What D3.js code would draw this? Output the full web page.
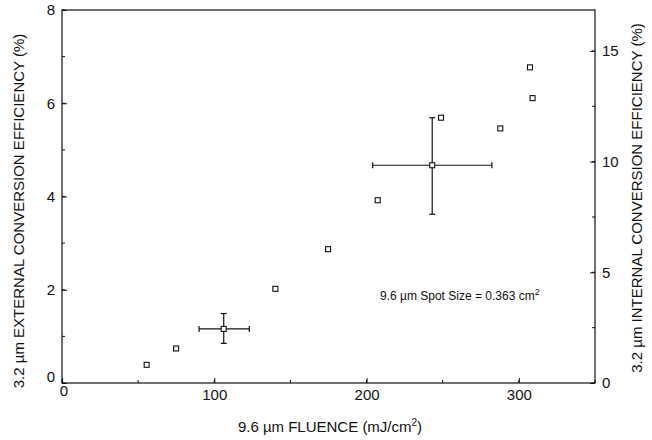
<!DOCTYPE html>
<meta charset="utf-8">
<style>
  body { margin: 0; background: #fff; }
  text { font-family: "Liberation Sans", Arial, sans-serif; fill: #111; }
  .axis path, .axis line { stroke: #111; }
</style>
<body>
<svg id="chart" width="652" height="440"></svg>
</body>
<script src="https://cdn.jsdelivr.net/npm/d3@7"></script>
<script>

  // fluence (mJ/cm2) and external efficiency (%)
  var fluence = [55.6, 74.9, 106.2, 140.1, 174.7, 207.3, 243.1, 248.9, 287.8, 307.3, 309];
  var efficiency = [0.39, 0.74, 1.16, 2.02, 2.87, 3.92, 4.67, 5.69, 5.46, 6.77, 6.11];

  // error bars: [x, y, xLo, xHi, yLo, yHi]
  var errorBars = [
    [106.2, 1.16, 90, 123, 0.85, 1.49],
    [243.1, 4.67, 204, 282.3, 3.62, 5.69]
  ];

  var xTicks = [0, 100, 200, 300];
  var yTicks = [0, 2, 4, 6, 8];
  var y2Ticks = [0, 5, 10, 15];

  var svg = d3.select("#chart");
  var plotLeft = 62, plotRight = 595, plotTop = 10, plotBottom = 383;

  var x = d3.scaleLinear().domain([0, 350]).range([plotLeft, plotRight]);
  var y = d3.scaleLinear().domain([0, 8]).range([plotBottom, plotTop]);
  var y2 = d3.scaleLinear().domain([0, 16.85]).range([plotBottom, plotTop]);

  // frame
  svg.append("rect")
      .attr("x", plotLeft).attr("y", plotTop)
      .attr("width", plotRight - plotLeft).attr("height", plotBottom - plotTop)
      .attr("fill", "none").attr("stroke", "#111").attr("stroke-width", 1.2);

  // minor ticks
  var minor = svg.append("g").attr("stroke", "#111");
  d3.range(0, 351, 50).forEach(function (v) {
    minor.append("line").attr("x1", x(v)).attr("x2", x(v)).attr("y1", plotBottom).attr("y2", plotBottom - 3);
  });
  d3.range(0, 8.01, 1).forEach(function (v) {
    minor.append("line").attr("x1", plotLeft).attr("x2", plotLeft + 3).attr("y1", y(v)).attr("y2", y(v));
  });
  d3.range(0, 16.5, 2.5).forEach(function (v) {
    minor.append("line").attr("x1", plotRight).attr("x2", plotRight - 3).attr("y1", y2(v)).attr("y2", y2(v));
  });

  // axes
  var xAxis = svg.append("g").attr("class", "axis")
      .attr("transform", "translate(0," + plotBottom + ")")
      .call(d3.axisBottom(x).tickValues(xTicks).tickSize(-5).tickPadding(6).tickSizeOuter(0));
  var yAxis = svg.append("g").attr("class", "axis")
      .attr("transform", "translate(" + plotLeft + ",0)")
      .call(d3.axisLeft(y).tickValues(yTicks).tickSize(-5).tickPadding(7).tickSizeOuter(0));
  var y2Axis = svg.append("g").attr("class", "axis")
      .attr("transform", "translate(" + plotRight + ",0)")
      .call(d3.axisRight(y2).tickValues(y2Ticks).tickSize(-5).tickPadding(7).tickSizeOuter(0));

  svg.selectAll(".axis text").style("font-size", "15px");
  svg.selectAll(".axis .domain").remove();
  // the two zeros in the corner sit a bit off the axis
  yAxis.selectAll(".tick text").filter(function (d) { return d === 0; }).attr("dy", "-0.1em");
  xAxis.selectAll(".tick text").filter(function (d) { return d === 0; }).attr("dx", "0.1em").attr("dy", "0.45em");

  // error bars
  var eb = svg.append("g").attr("stroke", "#111").attr("stroke-width", 1.2);
  errorBars.forEach(function (d) {
    eb.append("line").attr("x1", x(d[2])).attr("x2", x(d[3])).attr("y1", y(d[1])).attr("y2", y(d[1]));
    eb.append("line").attr("x1", x(d[0])).attr("x2", x(d[0])).attr("y1", y(d[4])).attr("y2", y(d[5]));
    [d[2], d[3]].forEach(function (v) {
      eb.append("line").attr("x1", x(v)).attr("x2", x(v)).attr("y1", y(d[1]) - 3).attr("y2", y(d[1]) + 3);
    });
    [d[4], d[5]].forEach(function (v) {
      eb.append("line").attr("x1", x(d[0]) - 3).attr("x2", x(d[0]) + 3).attr("y1", y(v)).attr("y2", y(v));
    });
  });

  // markers
  svg.append("g").selectAll("rect")
      .data(fluence)
      .enter().append("rect")
      .attr("x", function (d) { return x(d) - 2.5; })
      .attr("y", function (d, i) { return y(efficiency[i]) - 2.5; })
      .attr("width", 5).attr("height", 5)
      .attr("fill", "#fff").attr("stroke", "#111").attr("stroke-width", 1.1);

  // titles
  var xt = svg.append("text")
      .attr("x", 330).attr("y", 432)
      .attr("text-anchor", "middle").style("font-size", "15px");
  xt.append("tspan").text("9.6 \u00b5m FLUENCE (mJ/cm");
  xt.append("tspan").attr("dy", -6).style("font-size", "10px").text("2");
  xt.append("tspan").attr("dy", 6).text(")");

  svg.append("text")
      .attr("transform", "translate(24,211) rotate(-90)")
      .attr("text-anchor", "middle").style("font-size", "15px")
      .text("3.2 \u00b5m EXTERNAL CONVERSION EFFICIENCY (%)");

  svg.append("text")
      .attr("transform", "translate(642,198) rotate(-90)")
      .attr("text-anchor", "middle").style("font-size", "15px")
      .text("3.2 \u00b5m INTERNAL CONVERSION EFFICIENCY (%)");

  var note = svg.append("text")
      .attr("x", 380).attr("y", 300)
      .style("font-size", "12px");
  note.append("tspan").text("9.6 \u00b5m Spot Size = 0.363 cm");
  note.append("tspan").attr("dy", -5).style("font-size", "9px").text("2");

</script>
